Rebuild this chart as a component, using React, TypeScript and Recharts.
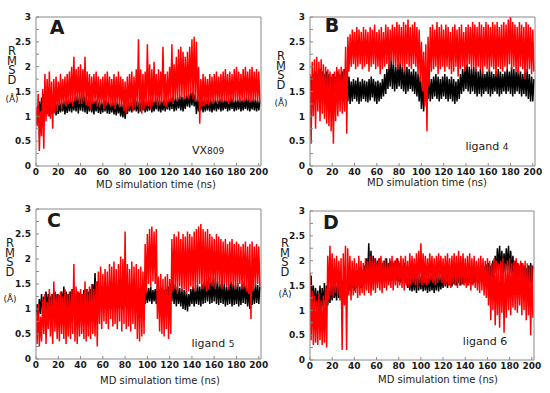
import React from 'react';
import { LineChart, Line, XAxis, YAxis } from 'recharts';

// envelope arrays are sampled every STEP ns (0..200); each bin gives a low and a high reading
const STEP = 2;
const X_TICKS = [0, 20, 40, 60, 80, 100, 120, 140, 160, 180, 200];
const Y_TICKS = [0, 0.25, 0.5, 0.75, 1, 1.25, 1.5, 1.75, 2, 2.25, 2.5, 2.75, 3];
const FRAME = '#8a8a8a';

// A: VX809
const vxBlackLo = [
  0.85, 0.95, 1.0, 1.05, 1.1, 1.05, 1.0, 1.05, 1.08, 1.02,
  1.05, 1.08, 1.1, 1.04, 1.07, 1.1, 1.08, 1.12, 1.1, 1.06,
  1.12, 1.1, 1.08, 1.05, 1.1, 1.08, 1.04, 1.1, 1.07, 1.05,
  1.08, 1.1, 1.06, 1.05, 1.08, 1.04, 1.02, 1.06, 1.0, 0.98,
  0.95, 1.05, 1.1, 1.08, 1.12, 1.1, 1.06, 1.1, 1.12, 1.08,
  1.1, 1.12, 1.08, 1.1, 1.14, 1.1, 1.08, 1.12, 1.1, 1.14,
  1.12, 1.15, 1.1, 1.12, 1.16, 1.12, 1.1, 1.15, 1.2, 1.18,
  1.22, 1.2, 1.05, 1.1, 1.12, 1.08, 1.1, 1.12, 1.1, 1.08,
  1.12, 1.1, 1.14, 1.1, 1.12, 1.15, 1.1, 1.12, 1.15, 1.1,
  1.12, 1.14, 1.1, 1.12, 1.15, 1.12, 1.1, 1.14, 1.12, 1.1,
  1.12,
];
const vxBlackHi = [
  1.15, 1.3, 1.38, 1.45, 1.5, 1.4, 1.32, 1.28, 1.3, 1.25,
  1.3, 1.28, 1.32, 1.3, 1.34, 1.36, 1.32, 1.38, 1.42, 1.4,
  1.46, 1.42, 1.38, 1.34, 1.36, 1.32, 1.3, 1.34, 1.3, 1.28,
  1.32, 1.34, 1.3, 1.28, 1.3, 1.27, 1.3, 1.26, 1.24, 1.25,
  1.22, 1.28, 1.3, 1.32, 1.35, 1.32, 1.3, 1.34, 1.32, 1.3,
  1.32, 1.35, 1.3, 1.32, 1.36, 1.32, 1.3, 1.34, 1.32, 1.36,
  1.38, 1.4, 1.36, 1.38, 1.42, 1.4, 1.38, 1.42, 1.45, 1.48,
  1.5, 1.45, 1.35, 1.38, 1.35, 1.32, 1.34, 1.36, 1.32, 1.3,
  1.34, 1.32, 1.36, 1.34, 1.32, 1.36, 1.34, 1.38, 1.35, 1.32,
  1.34, 1.36, 1.32, 1.35, 1.38, 1.35, 1.32, 1.36, 1.34, 1.32,
  1.3,
];
const vxRedLo = [
  0.8, 0.3, 0.6, 0.35, 0.9, 1.0, 0.95, 0.75, 1.05, 1.1,
  1.22, 1.15, 1.25, 1.2, 1.25, 1.28, 1.2, 1.3, 1.32, 1.25,
  1.25, 1.3, 1.22, 1.2, 1.15, 1.25, 1.28, 1.2, 1.18, 1.25,
  1.15, 1.22, 1.28, 1.2, 1.22, 1.15, 1.25, 1.18, 1.2, 1.1,
  1.05, 1.15, 1.2, 1.1, 1.18, 1.2, 1.1, 1.05, 1.15, 1.22,
  1.2, 1.15, 1.22, 1.28, 1.2, 1.22, 1.28, 1.22, 1.18, 1.28,
  1.3, 1.25, 1.35, 1.3, 1.35, 1.4, 1.35, 1.4, 1.35, 1.45,
  1.35, 1.3, 1.3, 0.85, 1.2, 1.2, 1.25, 1.22, 1.28, 1.25,
  1.3, 1.25, 1.3, 1.28, 1.32, 1.3, 1.25, 1.3, 1.28, 1.32,
  1.3, 1.28, 1.32, 1.3, 1.35, 1.32, 1.28, 1.3, 1.32, 1.3,
  1.28,
];
const vxRedHi = [
  1.2, 1.45, 1.1, 1.55, 1.85, 1.75, 1.9, 1.7, 1.75, 1.8,
  1.7, 1.85, 1.75, 1.8, 1.85, 1.9, 2.0, 2.2, 1.95, 2.0,
  2.05, 1.95, 2.2, 1.9, 1.85, 1.8, 1.85, 1.9, 1.8, 1.75,
  1.8, 1.85, 1.9, 1.8, 1.75, 1.85, 1.8, 1.9, 1.8, 1.75,
  1.7, 1.8, 1.85, 1.9, 1.8, 1.95, 2.55, 1.95, 1.85, 1.9,
  2.45, 2.05, 1.95, 2.1, 1.85, 1.95, 1.9, 2.4, 1.85, 1.9,
  2.0, 2.45, 2.05, 2.2, 2.35, 2.4, 2.3, 2.2, 2.3, 2.4,
  2.55, 2.6, 2.5, 2.0, 1.75, 1.85, 1.8, 1.75, 1.85, 1.8,
  1.85, 1.9, 1.8, 1.85, 1.9, 1.95, 1.85, 1.9, 1.85, 1.95,
  2.0, 1.9, 1.85, 1.95, 2.0, 1.9, 1.95, 2.0, 1.9, 1.95,
  1.9,
];

// B: ligand 4
const l4BlackLo = [
  1.3, 1.35, 1.4, 1.35, 1.4, 1.45, 1.4, 1.35, 1.3, 1.25,
  1.3, 1.35, 1.4, 1.38, 1.35, 1.3, 1.35, 1.3, 1.25, 1.3,
  1.35, 1.3, 1.25, 1.3, 1.35, 1.3, 1.28, 1.32, 1.38, 1.3,
  1.25, 1.3, 1.35, 1.4, 1.45, 1.55, 1.6, 1.55, 1.5, 1.55,
  1.6, 1.55, 1.5, 1.45, 1.5, 1.55, 1.5, 1.45, 1.4, 1.3,
  1.15, 1.1, 1.3, 1.35, 1.3, 1.35, 1.4, 1.35, 1.3, 1.35,
  1.4, 1.35, 1.3, 1.35, 1.3, 1.25, 1.3, 1.35, 1.45, 1.5,
  1.55, 1.5, 1.45, 1.5, 1.45, 1.4, 1.45, 1.4, 1.45, 1.5,
  1.45, 1.4, 1.45, 1.5, 1.45, 1.4, 1.45, 1.5, 1.45, 1.5,
  1.45, 1.4, 1.45, 1.5, 1.45, 1.4, 1.45, 1.4, 1.35, 1.3,
  1.3,
];
const l4BlackHi = [
  1.8, 1.85, 1.9, 1.85, 1.95, 1.9, 1.85, 1.9, 1.85, 1.8,
  1.85, 1.8, 1.9, 1.85, 1.9, 1.95, 1.9, 1.8, 1.7, 1.75,
  1.72, 1.78, 1.7, 1.75, 1.72, 1.7, 1.75, 1.8, 1.75, 1.7,
  1.72, 1.68, 1.75, 1.85, 1.95, 2.05, 2.2, 2.05, 2.0, 2.05,
  2.1, 2.0, 1.95, 2.0, 1.95, 1.9, 1.95, 1.9, 1.85, 1.8,
  1.7, 1.6, 1.75, 1.8, 1.75, 1.8, 1.85, 1.8, 1.75, 1.8,
  1.85, 1.8, 1.75, 1.8, 1.75, 1.7, 1.75, 1.85, 1.95, 2.0,
  2.05, 2.0, 1.95, 2.0, 1.95, 1.9, 1.95, 1.9, 1.85, 1.9,
  1.95, 1.9, 1.85, 1.9, 1.95, 1.9, 1.85, 1.9, 1.95, 1.9,
  2.0, 1.95, 1.9, 1.95, 1.9, 1.85, 1.9, 1.95, 1.85, 1.8,
  1.75,
];
const l4RedLo = [
  0.45, 1.0, 0.75, 1.1, 0.9, 1.05, 0.95, 0.85, 0.8, 0.7,
  0.45, 0.9, 1.0, 1.1, 1.05, 1.1, 0.65, 1.9, 2.0, 2.05,
  1.95, 2.0, 2.05, 1.95, 2.0, 2.05, 1.9, 2.0, 2.05, 1.95,
  2.0, 1.85, 1.95, 2.0, 2.05, 1.95, 2.1, 2.05, 2.0, 1.95,
  2.05, 2.0, 1.9, 2.05, 2.0, 1.95, 2.05, 2.0, 1.85, 1.7,
  1.5, 1.2, 0.7, 1.6, 1.9, 1.95, 2.0, 1.85, 1.95, 2.0,
  1.9, 2.0, 1.95, 1.85, 1.9, 2.0, 1.8, 1.95, 2.0, 1.9,
  2.0, 2.05, 1.95, 2.0, 1.9, 2.0, 1.95, 1.85, 2.0, 1.95,
  1.9, 2.0, 1.95, 1.8, 2.0, 1.95, 1.9, 2.0, 1.95, 2.05,
  1.95, 2.0, 1.9, 1.85, 2.0, 1.95, 1.75, 1.9, 1.95, 1.85,
  1.9,
];
const l4RedHi = [
  1.85, 2.1, 2.15, 2.2, 2.1, 2.15, 2.05, 2.0, 1.95, 1.9,
  1.85, 1.9, 2.0, 1.95, 2.0, 1.95, 2.4, 2.6, 2.65, 2.75,
  2.7, 2.8, 2.75, 2.7, 2.8, 2.75, 2.7, 2.8, 2.75, 2.85,
  2.7, 2.75, 2.8, 2.7, 2.85, 2.8, 2.75, 2.85, 2.8, 2.9,
  2.85, 2.8, 2.9, 2.85, 2.95, 2.8, 2.85, 2.9, 2.8, 2.75,
  2.5, 2.3, 2.45, 2.6, 2.8, 2.85, 2.75, 2.9, 2.8, 2.85,
  2.75, 2.85, 2.8, 2.7, 2.8, 2.85, 2.75, 2.8, 2.85, 2.7,
  2.8, 2.85, 2.8, 2.9, 2.85, 2.8, 2.9, 2.85, 2.8, 2.9,
  2.85, 2.8, 2.9, 2.85, 2.9, 2.8, 2.85, 2.9, 2.85, 2.95,
  3.1, 2.9, 2.85, 2.8, 2.9, 2.85, 2.8, 2.9, 2.85, 2.8,
  2.75,
];

// C: ligand 5
const l5BlackLo = [
  0.85, 0.8, 0.9, 0.95, 1.0, 0.95, 0.9, 0.95, 1.0, 0.95,
  0.92, 0.98, 1.0, 0.95, 0.92, 0.98, 1.0, 0.95, 1.0, 0.98,
  0.95, 1.0, 1.02, 0.98, 1.0, 1.05, 1.1, 1.0, 1.0, 1.05,
  1.02, 1.0, 1.05, 1.02, 1.0, 1.05, 1.08, 1.02, 1.05, 1.0,
  1.05, 1.08, 1.02, 1.05, 1.1, 1.05, 1.08, 1.1, 1.05, 1.1,
  1.12, 1.15, 1.1, 1.15, 1.1, 1.12, 1.15, 1.1, 1.12, 1.15,
  1.1, 1.15, 1.1, 1.05, 1.1, 1.05, 1.0, 0.98, 0.95, 1.05,
  1.1, 1.05, 1.1, 1.08, 1.05, 1.1, 1.12, 1.15, 1.1, 1.12,
  1.15, 1.1, 1.08, 1.12, 1.1, 1.05, 1.08, 1.1, 1.05, 1.08,
  1.1, 1.05, 1.08, 1.12, 1.1, 1.05, 1.0, 1.08, 1.1, 1.12,
  1.1,
];
const l5BlackHi = [
  1.1, 1.2, 1.3, 1.25, 1.35, 1.3, 1.25, 1.3, 1.35, 1.3,
  1.28, 1.35, 1.45, 1.35, 1.3, 1.35, 1.4, 1.3, 1.35, 1.32,
  1.3, 1.38, 1.4, 1.35, 1.4, 1.5, 1.72, 1.55, 1.4, 1.45,
  1.4, 1.38, 1.45, 1.4, 1.35, 1.42, 1.45, 1.4, 1.38, 1.45,
  1.4, 1.42, 1.38, 1.4, 1.45, 1.4, 1.42, 1.45, 1.35, 1.4,
  1.42, 1.45, 1.38, 1.4, 1.45, 1.4, 1.42, 1.38, 1.4, 1.45,
  1.5, 1.55, 1.5, 1.45, 1.42, 1.4, 1.38, 1.35, 1.3, 1.4,
  1.45, 1.42, 1.48, 1.45, 1.5, 1.55, 1.6, 1.65, 1.55, 1.6,
  1.62, 1.55, 1.5, 1.58, 1.5, 1.45, 1.5, 1.55, 1.5, 1.48,
  1.52, 1.45, 1.5, 1.55, 1.48, 1.45, 1.4, 1.45, 1.5, 1.48,
  1.45,
];
const l5RedLo = [
  0.3, 0.25, 0.35, 0.5, 0.3, 0.6, 0.45, 0.3, 0.55, 0.4,
  0.35, 0.5, 0.4, 0.3, 0.45, 0.4, 0.5, 0.35, 0.3, 0.45,
  0.5, 0.4, 0.35, 0.45, 0.4, 0.5, 0.45, 0.25, 0.7, 0.6,
  0.75, 0.7, 0.6, 0.8, 0.65, 0.7, 0.6, 0.75, 0.55, 0.7,
  0.6, 0.65, 0.55, 0.7, 0.6, 0.4, 0.35, 0.45, 0.5, 1.3,
  1.5, 1.45, 1.55, 1.5, 0.8, 0.55, 0.5, 0.45, 0.6, 0.4,
  0.5, 1.35, 1.4, 1.3, 1.45, 1.35, 1.4, 1.3, 1.35, 1.45,
  1.4, 1.35, 1.45, 1.5, 1.4, 1.45, 1.35, 1.4, 1.5, 1.45,
  1.4, 1.5, 1.45, 1.4, 1.5, 1.45, 1.4, 1.5, 1.45, 1.4,
  1.45, 1.5, 1.4, 1.45, 1.35, 1.3, 0.8, 1.35, 1.45, 1.5,
  1.45,
];
const l5RedHi = [
  0.95, 1.1, 0.85, 1.2, 1.3, 1.15, 1.4, 1.3, 1.55, 1.25,
  1.3, 1.35, 1.25, 1.4, 1.3, 1.35, 1.4, 1.9, 1.45, 1.35,
  1.4, 1.3, 1.55, 1.4, 1.45, 1.5, 1.4, 1.55, 1.75, 1.85,
  1.7, 1.8, 1.75, 1.9, 1.85, 1.95, 1.8, 1.9, 2.05, 2.0,
  2.55, 1.9, 1.8, 1.95, 1.85, 1.9, 1.8, 1.85, 1.75, 2.3,
  2.5, 2.6, 2.65, 2.55, 2.6, 1.65, 1.7, 1.6, 1.65, 1.7,
  1.6, 2.4, 2.5, 2.45, 2.55, 2.4, 2.5, 2.45, 2.55, 2.5,
  2.45, 2.55, 2.6, 2.65, 2.7, 2.6, 2.55, 2.6, 2.5, 2.45,
  2.4, 2.5, 2.45, 2.4, 2.35, 2.4, 2.3, 2.35, 2.4, 2.3,
  2.35, 2.3, 2.25, 2.3, 2.35, 2.25, 2.3, 2.35, 2.25, 2.3,
  2.25,
];

// D: ligand 6
const l6BlackLo = [
  1.0, 1.1, 1.05, 1.0, 0.95, 1.0, 1.05, 1.1, 1.1, 1.15,
  1.2, 1.25, 1.2, 1.25, 1.3, 1.25, 1.3, 1.35, 1.4, 1.45,
  1.4, 1.45, 1.5, 1.45, 1.5, 1.55, 1.65, 1.6, 1.55, 1.6,
  1.62, 1.58, 1.6, 1.65, 1.6, 1.62, 1.58, 1.6, 1.65, 1.6,
  1.58, 1.55, 1.6, 1.55, 1.45, 1.4, 1.38, 1.4, 1.35, 1.4,
  1.42, 1.38, 1.4, 1.35, 1.38, 1.4, 1.35, 1.4, 1.38, 1.42,
  1.45, 1.48, 1.45, 1.5, 1.48, 1.52, 1.5, 1.55, 1.5, 1.52,
  1.55, 1.5, 1.55, 1.52, 1.55, 1.58, 1.55, 1.6, 1.58, 1.6,
  1.62, 1.6, 1.65, 1.7, 1.75, 1.8, 1.75, 1.72, 1.78, 1.8,
  1.75, 1.7, 1.65, 1.6, 1.55, 1.6, 1.55, 1.5, 1.55, 1.5,
  1.45,
];
const l6BlackHi = [
  1.7, 1.5, 1.45, 1.4, 1.5, 1.45, 1.55, 1.5, 1.45, 1.5,
  1.55, 1.5, 1.6, 1.55, 1.6, 1.65, 1.6, 1.7, 1.75, 1.8,
  1.75, 1.8, 1.85, 1.8, 1.9, 2.05, 2.35, 2.2, 2.1, 2.05,
  2.0, 2.05, 1.95, 2.0, 2.05, 1.95, 2.0, 1.95, 2.0, 2.05,
  1.95, 1.9, 1.95, 1.85, 1.75, 1.72, 1.7, 1.75, 1.7, 1.68,
  1.72, 1.7, 1.68, 1.72, 1.7, 1.68, 1.7, 1.75, 1.7, 1.72,
  1.75, 1.78, 1.75, 1.8, 1.78, 1.8, 1.82, 1.8, 1.85, 1.8,
  1.82, 1.85, 1.8, 1.85, 1.82, 1.88, 1.85, 1.9, 1.88, 1.92,
  1.95, 1.9, 2.0, 2.1, 2.25, 2.3, 2.2, 2.15, 2.25, 2.3,
  2.2, 2.1, 2.0, 1.95, 1.9, 1.95, 1.9, 1.85, 1.9, 1.95,
  1.9,
];
const l6RedLo = [
  0.4, 0.3, 0.35, 0.3, 0.4, 0.3, 0.35, 0.25, 1.2, 1.3,
  1.25, 1.35, 1.3, 1.2, 0.2, 1.1, 0.2, 1.3, 1.2, 1.3,
  1.35, 1.25, 1.3, 1.35, 1.3, 1.4, 1.35, 1.3, 1.4, 1.35,
  1.45, 1.4, 1.35, 1.45, 1.4, 1.5, 1.45, 1.4, 1.5, 1.45,
  1.5, 1.45, 1.4, 1.5, 1.45, 1.5, 1.55, 1.5, 1.45, 1.55,
  1.5, 1.55, 1.5, 1.55, 1.6, 1.55, 1.5, 1.55, 1.6, 1.55,
  1.5, 1.55, 1.5, 1.45, 1.55, 1.5, 1.45, 1.5, 1.55, 1.5,
  1.45, 1.5, 1.4, 1.5, 1.45, 1.4, 1.35, 1.4, 1.3, 1.25,
  1.1, 0.8, 1.0, 0.7, 0.9, 0.65, 0.95, 0.55, 0.85, 1.0,
  0.9, 1.05, 1.0, 0.95, 1.1, 0.9, 1.0, 0.8, 0.9, 0.5,
  0.85,
];
const l6RedHi = [
  1.75, 1.4, 1.3, 1.2, 1.35, 1.2, 1.3, 1.45, 2.1, 2.3,
  2.15, 2.05, 2.1, 2.0, 2.05, 2.15, 2.3, 2.25, 2.1, 2.0,
  2.05, 1.95, 2.1, 2.0, 1.95, 2.05, 2.0, 2.1, 2.0, 2.05,
  1.95, 2.05, 2.1, 2.0, 2.05, 1.95, 2.05, 2.1, 2.0, 2.05,
  2.0, 2.1, 2.05, 2.1, 2.0, 2.15, 2.1, 2.05, 2.15, 2.2,
  2.35, 2.15, 2.1, 2.05, 2.15, 2.1, 2.05, 2.1, 2.15, 2.1,
  2.05, 2.1, 2.15, 2.05, 2.1, 2.15, 2.1, 2.2, 2.1, 2.15,
  2.05, 2.1, 2.15, 2.05, 2.1, 2.0, 2.05, 2.1, 2.05, 2.0,
  2.05, 2.0, 1.95, 2.05, 2.0, 1.95, 2.0, 2.05, 1.95, 2.0,
  2.05, 1.95, 2.0, 2.05, 1.95, 2.0, 1.95, 2.0, 1.95, 1.9,
  1.9,
];

type Row = { t: number; black: number; red: number };

// interleave the low/high readings so each trace zig-zags like the raw MD signal
function buildRows(bLo: number[], bHi: number[], rLo: number[], rHi: number[]): Row[] {
  const rows: Row[] = [];
  bLo.forEach((_, i) => {
    const t = i * STEP;
    rows.push({ t, black: bLo[i], red: rHi[i] });
    rows.push({ t: t + STEP / 2, black: bHi[i], red: rLo[i] });
  });
  return rows;
}

const FONT = '"DejaVu Sans", Verdana, sans-serif';

const Txt = ({ x, y, size, bold, children }: { x: number; y: number; size: number; bold?: boolean; children: React.ReactNode }) => (
  <div
    style={{
      position: 'absolute',
      left: x,
      top: y,
      transform: 'translate(-50%, -50%)',
      fontSize: size,
      fontWeight: bold ? 'bold' : 'normal',
      fontFamily: FONT,
      whiteSpace: 'nowrap',
      lineHeight: 1,
      color: '#1a1a1a',
    }}
  >
    {children}
  </div>
);

interface PanelProps {
  rows: Row[];
  left: number;
  top: number;
  width: number;
  height: number;
  plot: { l: number; r: number; t: number; b: number };
}

const Panel: React.FC<PanelProps> = ({ rows, left, top, width, height, plot }) => {
  const tickStyle = { fontSize: 9, fontWeight: 'bold' as const, fill: '#1a1a1a', fontFamily: FONT };
  return (
    <div style={{ position: 'absolute', left, top }}>
      <LineChart
        width={width}
        height={height}
        data={rows}
        margin={{ top: plot.t - 1, right: width - plot.r - 1, bottom: 0, left: 0 }}
      >
        <XAxis
          xAxisId="b"
          dataKey="t"
          type="number"
          domain={[0, 202]}
          allowDataOverflow
          ticks={X_TICKS}
          interval={0}
          height={height - plot.b}
          tickSize={-3}
          tickMargin={6}
          tick={tickStyle}
          axisLine={{ stroke: FRAME }}
          tickLine={{ stroke: FRAME }}
        />
        <XAxis
          xAxisId="t"
          orientation="top"
          type="number"
          domain={[0, 202]}
          allowDataOverflow
          ticks={X_TICKS}
          interval={0}
          height={1}
          tickSize={-3}
          tick={false}
          axisLine={{ stroke: FRAME }}
          tickLine={{ stroke: FRAME }}
        />
        <YAxis
          yAxisId="l"
          type="number"
          domain={[0, 3]}
          allowDataOverflow
          ticks={Y_TICKS}
          interval={0}
          width={plot.l}
          tickSize={-3}
          tickMargin={8}
          tick={tickStyle}
          tickFormatter={(v: number) => (v % 0.5 === 0 ? String(v) : '')}
          axisLine={{ stroke: FRAME }}
          tickLine={{ stroke: FRAME }}
        />
        <YAxis
          yAxisId="r"
          orientation="right"
          type="number"
          domain={[0, 3]}
          allowDataOverflow
          ticks={Y_TICKS}
          interval={0}
          width={1}
          tickSize={-3}
          tick={false}
          axisLine={{ stroke: FRAME }}
          tickLine={{ stroke: FRAME }}
        />
        <Line xAxisId="b" yAxisId="l" type="linear" dataKey="black" stroke="#000000" strokeWidth={1.5} dot={false} isAnimationActive={false} />
        <Line xAxisId="b" yAxisId="l" type="linear" dataKey="red" stroke="#ff0000" strokeWidth={1.5} dot={false} isAnimationActive={false} />
      </LineChart>
    </div>
  );
};

// "RMSD" stacked one letter per line in a single text block, with (Å) below it
const RmsdLabel = ({ x, top, unitY }: { x: number; top: number; unitY: number }) => (
  <>
    <div
      style={{
        position: 'absolute',
        left: x,
        top,
        transform: 'translateX(-50%)',
        fontSize: 11.5,
        fontFamily: FONT,
        lineHeight: '9.7px',
        whiteSpace: 'pre-line',
        textAlign: 'center',
        color: '#1a1a1a',
      }}
    >
      {'R\nM\nS\nD'}
    </div>
    <Txt x={x} y={unitY} size={9}>(Å)</Txt>
  </>
);

const TITLE = 'MD simulation time (ns)';

export default function App() {
  return (
    <div style={{ position: 'absolute', left: 0, top: 0, width: 550, height: 393, background: '#fff', overflow: 'hidden' }}>
      <Panel rows={buildRows(vxBlackLo, vxBlackHi, vxRedLo, vxRedHi)} left={0} top={0} width={275} height={196} plot={{ l: 36, r: 261, t: 17, b: 166 }} />
      <Panel rows={buildRows(l4BlackLo, l4BlackHi, l4RedLo, l4RedHi)} left={275} top={0} width={275} height={196} plot={{ l: 35, r: 260, t: 17, b: 166 }} />
      <Panel rows={buildRows(l5BlackLo, l5BlackHi, l5RedLo, l5RedHi)} left={0} top={196} width={275} height={197} plot={{ l: 36, r: 261, t: 13, b: 163 }} />
      <Panel rows={buildRows(l6BlackLo, l6BlackHi, l6RedLo, l6RedHi)} left={275} top={196} width={275} height={197} plot={{ l: 35, r: 259, t: 15, b: 164 }} />

      <Txt x={57} y={27} size={19} bold>A</Txt>
      <Txt x={332} y={25} size={19} bold>B</Txt>
      <Txt x={54} y={220} size={19} bold>C</Txt>
      <Txt x={331} y={222} size={19} bold>D</Txt>

      <RmsdLabel x={12} top={47} unitY={99} />
      <RmsdLabel x={281} top={52} unitY={103} />
      <RmsdLabel x={10} top={239} unitY={299} />
      <RmsdLabel x={285} top={239} unitY={294} />

      <Txt x={208} y={150} size={11}>VX<span style={{ fontSize: 9 }}>809</span></Txt>
      <Txt x={487} y={146} size={11}>ligand <span style={{ fontSize: 9 }}>4</span></Txt>
      <Txt x={213} y={343} size={11}>ligand <span style={{ fontSize: 9 }}>5</span></Txt>
      <Txt x={485} y={341} size={11}>ligand 6</Txt>

      <Txt x={156} y={185} size={10}>{TITLE}</Txt>
      <Txt x={427} y={183} size={10}>{TITLE}</Txt>
      <Txt x={160} y={381} size={10}>{TITLE}</Txt>
      <Txt x={438} y={380} size={10}>{TITLE}</Txt>
    </div>
  );
}
